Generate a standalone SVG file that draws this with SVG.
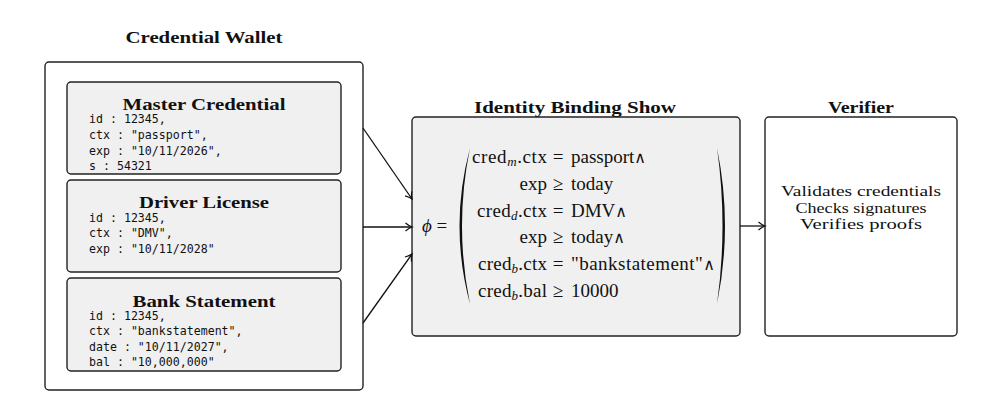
<svg xmlns="http://www.w3.org/2000/svg" width="992" height="415" viewBox="0 0 992 415">
<style>
.box{fill:#f0f0f0;stroke:#222;stroke-width:1.4}
.wbox{fill:#fff;stroke:#222;stroke-width:1.4}
.title{font-family:"Liberation Serif",serif;font-weight:bold;font-size:16.5px;fill:#111;text-anchor:middle}
.ctitle{font-family:"Liberation Serif",serif;font-weight:bold;font-size:17px;fill:#111;text-anchor:middle}
.mono{font-family:"DejaVu Sans Mono","Liberation Mono",monospace;font-size:11.6px;fill:#111}
.math{font-family:"Liberation Serif",serif;font-size:19px;fill:#111}
.sub{font-style:italic;font-size:13px}
.and{font-family:"DejaVu Serif",serif;font-size:16px}
.vt{font-family:"Liberation Serif",serif;font-size:14.8px;fill:#111;text-anchor:middle}
.conn{stroke:#111;stroke-width:1.3;fill:none}
</style>
<defs>
<marker id="arr" markerUnits="userSpaceOnUse" markerWidth="12" markerHeight="12" refX="10" refY="6" orient="auto">
<path d="M3.5,2 Q7,5 10,6 Q7,7 3.5,10" fill="none" stroke="#111" stroke-width="1.2"/>
</marker>
</defs>
<rect width="992" height="415" fill="#fff"/>

<g id="wallet">
<text class="title" x="204" y="43" textLength="157" lengthAdjust="spacingAndGlyphs">Credential Wallet</text>
<rect class="wbox" x="45" y="62" width="318" height="328" rx="4"/>
</g>

<g id="master">
<rect class="box" x="67" y="82" width="274" height="92" rx="4"/>
<text class="ctitle" x="204" y="109.5" textLength="163" lengthAdjust="spacingAndGlyphs">Master Credential</text>
<text class="mono" x="89" y="123">id : 12345,</text>
<text class="mono" x="89" y="139">ctx : "passport",</text>
<text class="mono" x="89" y="155">exp : "10/11/2026",</text>
<text class="mono" x="89" y="170">s : 54321</text>
</g>

<g id="driver">
<rect class="box" x="67" y="180" width="274" height="92" rx="4"/>
<text class="ctitle" x="204" y="208" textLength="130" lengthAdjust="spacingAndGlyphs">Driver License</text>
<text class="mono" x="89" y="222">id : 12345,</text>
<text class="mono" x="89" y="237">ctx : "DMV",</text>
<text class="mono" x="89" y="253">exp : "10/11/2028"</text>
</g>

<g id="bank">
<rect class="box" x="67" y="278" width="274" height="93" rx="4"/>
<text class="ctitle" x="204" y="306.5" textLength="143" lengthAdjust="spacingAndGlyphs">Bank Statement</text>
<text class="mono" x="89" y="319.5">id : 12345,</text>
<text class="mono" x="89" y="335">ctx : "bankstatement",</text>
<text class="mono" x="89" y="351">date : "10/11/2027",</text>
<text class="mono" x="89" y="366">bal : "10,000,000"</text>
</g>

<g id="show">
<text class="title" x="575" y="113" textLength="202" lengthAdjust="spacingAndGlyphs">Identity Binding Show</text>
<rect class="box" x="412" y="117" width="328" height="219" rx="4"/>
<text class="math" x="422" y="232"><tspan font-style="italic">ϕ</tspan> =</text>
<path d="M470,148 Q449,226 470,304 Q454,226 470,148 Z" fill="#111"/>
<path d="M717,148 Q733,226 717,304 Q728,226 717,148 Z" fill="#111"/>
<text class="math" x="547" y="163" text-anchor="end" textLength="75">cred<tspan class="sub" dy="3">m</tspan><tspan dy="-3">.ctx</tspan></text>
<text class="math" x="558" y="163" text-anchor="middle">=</text>
<text class="math" x="571" y="163">passport<tspan class="and">∧</tspan></text>
<text class="math" x="547" y="190" text-anchor="end">exp</text>
<text class="math" x="558" y="190" text-anchor="middle">≥</text>
<text class="math" x="571" y="190">today</text>
<text class="math" x="547" y="217" text-anchor="end" textLength="70">cred<tspan class="sub" dy="3">d</tspan><tspan dy="-3">.ctx</tspan></text>
<text class="math" x="558" y="217" text-anchor="middle">=</text>
<text class="math" x="571" y="217">DMV<tspan class="and">∧</tspan></text>
<text class="math" x="547" y="243" text-anchor="end">exp</text>
<text class="math" x="558" y="243" text-anchor="middle">≥</text>
<text class="math" x="571" y="243">today<tspan class="and">∧</tspan></text>
<text class="math" x="547" y="270" text-anchor="end" textLength="69">cred<tspan class="sub" dy="3">b</tspan><tspan dy="-3">.ctx</tspan></text>
<text class="math" x="558" y="270" text-anchor="middle">=</text>
<text class="math" x="571" y="270" textLength="144">"bankstatement"<tspan class="and">∧</tspan></text>
<text class="math" x="547" y="297" text-anchor="end" textLength="69">cred<tspan class="sub" dy="3">b</tspan><tspan dy="-3">.bal</tspan></text>
<text class="math" x="558" y="297" text-anchor="middle">≥</text>
<text class="math" x="571" y="297">10000</text>
</g>

<g id="verifier">
<text class="title" x="861" y="113" textLength="66" lengthAdjust="spacingAndGlyphs">Verifier</text>
<rect class="wbox" x="765" y="117" width="192" height="219" rx="4"/>
<text class="vt" x="861" y="196" textLength="160" lengthAdjust="spacingAndGlyphs">Validates credentials</text>
<text class="vt" x="861" y="212.5" textLength="131" lengthAdjust="spacingAndGlyphs">Checks signatures</text>
<text class="vt" x="861" y="229" textLength="122" lengthAdjust="spacingAndGlyphs">Verifies proofs</text>
</g>

<g id="connectors">
<line class="conn" x1="363" y1="128" x2="412" y2="199" marker-end="url(#arr)"/>
<line class="conn" x1="363" y1="227" x2="412" y2="227" marker-end="url(#arr)"/>
<line class="conn" x1="363" y1="323" x2="412" y2="254" marker-end="url(#arr)"/>
<line class="conn" x1="740" y1="226" x2="765" y2="226" marker-end="url(#arr)"/>
</g>
</svg>
